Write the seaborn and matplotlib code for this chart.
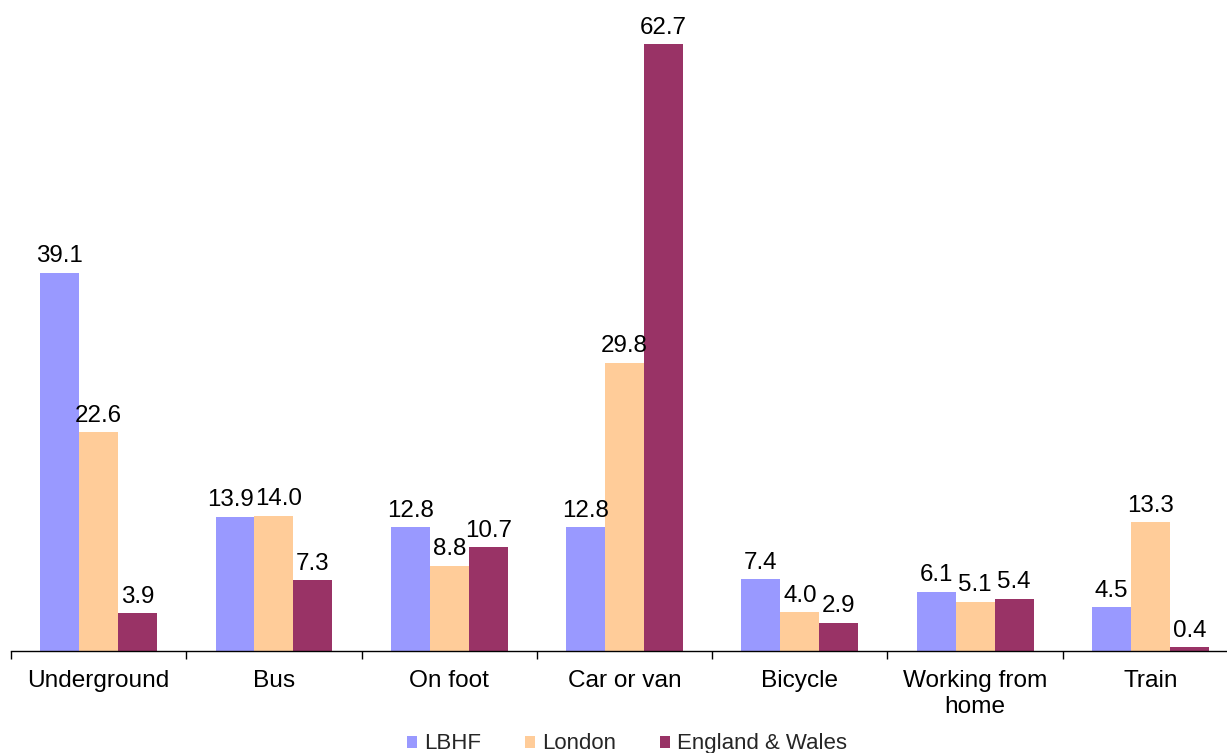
import matplotlib
matplotlib.use("Agg")
import matplotlib.pyplot as plt
import seaborn as sns
import pandas as pd
import numpy as np

# Travel-to-work mode shares (%)
modes = ["Underground", "Bus", "On foot", "Car or van", "Bicycle",
         "Working from\nhome", "Train"]
areas = ["LBHF", "London", "England & Wales"]
lbhf = [39.1, 13.9, 12.8, 12.8, 7.4, 6.1, 4.5]
london = [22.6, 14.0, 8.8, 29.8, 4.0, 5.1, 13.3]
eng_wales = [3.9, 7.3, 10.7, 62.7, 2.9, 5.4, 0.4]
palette = ["#9999FF", "#FFCC99", "#993366"]

rows = []
for area, vals in zip(areas, [lbhf, london, eng_wales]):
    for m, v in zip(modes, vals):
        rows.append({"mode": m, "area": area, "value": v})
df = pd.DataFrame(rows)

sns.set_theme(style="white")
plt.rcParams["font.family"] = ["Liberation Sans", "DejaVu Sans"]

fig = plt.figure(figsize=(12.27, 7.53), dpi=100)
ax = fig.add_axes([0.009, 0.1355, 1.0, 0.8645])

sns.barplot(data=df, x="mode", y="value", hue="area", order=modes,
            hue_order=areas, palette=palette, saturation=1, width=0.667,
            gap=0, linewidth=0, ax=ax, legend=True)

label_sets = []
for cont in ax.containers:
    label_sets.append(ax.bar_label(cont, fmt="%.1f", padding=4,
                                   fontsize=17.4, color="black"))

# Nudge the two touching Bus labels apart so they don't collide
bus = modes.index("Bus")
label_sets[0][bus].xyann = (-3.5, 4)
label_sets[1][bus].xyann = (3.0, 4)

ax.set_xlim(-0.5, len(modes) - 0.5)
ax.set_ylim(0, 67.3)
ax.set_xlabel("")
ax.set_ylabel("")
ax.set_yticks([])
for side in ["left", "right", "top"]:
    ax.spines[side].set_visible(False)
ax.spines["bottom"].set_color("black")
ax.spines["bottom"].set_linewidth(1.0)

ax.set_xticks(range(len(modes)))
ax.set_xticklabels(modes, fontsize=17.6, color="black", linespacing=1.2)
ax.tick_params(axis="x", which="major", length=0, pad=14)
ax.set_xticks(np.arange(-0.5, len(modes), 1.0), minor=True)
ax.tick_params(axis="x", which="minor", length=6, width=1.0,
               direction="out", color="black", bottom=True)

handles, labels = ax.get_legend_handles_labels()
ax.legend(handles, labels, loc="center", bbox_to_anchor=(0.511, 0.012),
          bbox_transform=fig.transFigure, ncol=3, frameon=False,
          fontsize=16, handlelength=0.45, handleheight=0.45,
          handletextpad=0.3, columnspacing=2.0, borderpad=0.0)

fig.savefig("out.png", dpi=100)
